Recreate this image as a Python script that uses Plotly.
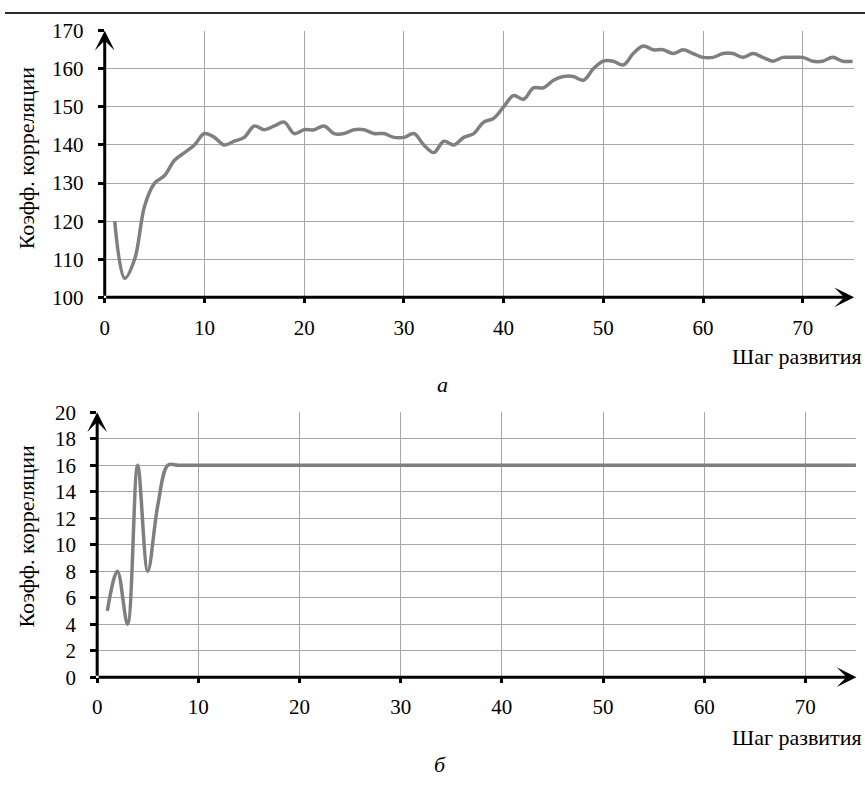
import plotly.graph_objects as go

# --- data -------------------------------------------------------------
steps = list(range(1, 76))

corr_a = [120, 105, 110, 124, 130, 132, 136, 138, 140, 143,
          142, 140, 141, 142, 145, 144, 145, 146, 143, 144,
          144, 145, 143, 143, 144, 144, 143, 143, 142, 142,
          143, 140, 138, 141, 140, 142, 143, 146, 147, 150,
          153, 152, 155, 155, 157, 158, 158, 157, 160, 162,
          162, 161, 164, 166, 165, 165, 164, 165, 164, 163,
          163, 164, 164, 163, 164, 163, 162, 163, 163, 163,
          162, 162, 163, 162, 162]

corr_b = [5, 8, 4, 16, 8, 13, 16, 16, 16, 16,
          16, 16, 16, 16, 16, 16, 16, 16, 16, 16,
          16, 16, 16, 16, 16, 16, 16, 16, 16, 16,
          16, 16, 16, 16, 16, 16, 16, 16, 16, 16,
          16, 16, 16, 16, 16, 16, 16, 16, 16, 16,
          16, 16, 16, 16, 16, 16, 16, 16, 16, 16,
          16, 16, 16, 16, 16, 16, 16, 16, 16, 16,
          16, 16, 16, 16, 16]

x_ticks = [0, 10, 20, 30, 40, 50, 60, 70]
y_ticks_a = [100, 110, 120, 130, 140, 150, 160, 170]
y_ticks_b = [0, 2, 4, 6, 8, 10, 12, 14, 16, 18, 20]

y_title = "Коэфф. корреляции"
x_title = "Шаг развития"
panel_a = "а"
panel_b = "б"

# --- layout helpers ---------------------------------------------------
W, H = 865, 790
FONT = "Liberation Serif, Times New Roman, DejaVu Serif, serif"
LINE_GREY = "#7f7f7f"
GRID_GREY = "#a6a6a6"


def px(x):
    return x / W


def py(y):
    return 1 - y / H


XA_END = 75.15
XB_END = 75.05

fig = go.Figure()

fig.add_trace(go.Scatter(
    x=steps, y=corr_a, mode="lines",
    line=dict(color=LINE_GREY, width=3.5, shape="spline", smoothing=1),
    xaxis="x", yaxis="y", showlegend=False, hoverinfo="skip"))

fig.add_trace(go.Scatter(
    x=steps, y=corr_b, mode="lines",
    line=dict(color=LINE_GREY, width=3.5, shape="spline", smoothing=1),
    xaxis="x2", yaxis="y2", showlegend=False, hoverinfo="skip"))

common_x = dict(
    tickvals=x_ticks, ticks="outside", ticklen=5, tickwidth=3, tickcolor="black",
    showgrid=True, gridcolor=GRID_GREY, gridwidth=1, zeroline=False,
    showline=False, tickfont=dict(family=FONT, size=21, color="black"),
    ticklabelstandoff=6, fixedrange=True)
common_y = dict(
    ticks="outside", ticklen=6, tickwidth=3, tickcolor="black",
    showgrid=True, gridcolor=GRID_GREY, gridwidth=1, zeroline=False,
    showline=False, tickfont=dict(family=FONT, size=21, color="black"),
    ticklabelstandoff=10, fixedrange=True)

fig.update_layout(
    width=W, height=H,
    margin=dict(l=0, r=0, t=0, b=0),
    paper_bgcolor="white", plot_bgcolor="white",
    font=dict(family=FONT, size=21, color="black"),
    xaxis=dict(domain=[px(100.3), px(100.3 + 10.03 * XA_END)],
               range=[0, XA_END], anchor="y", **common_x),
    yaxis=dict(domain=[py(294.3), py(19.3)], range=[100, 170],
               tickvals=y_ticks_a, anchor="x", **common_y),
    xaxis2=dict(domain=[px(92.7), px(92.7 + 10.176 * XB_END)],
                range=[0, XB_END], anchor="y2", **common_x),
    yaxis2=dict(domain=[py(686), py(412.7)], range=[0, 20],
                tickvals=y_ticks_b, anchor="x2", **common_y),
)

# axes drawn as arrows
arrow = dict(showarrow=True, text="", arrowhead=3, arrowsize=1.1,
             arrowwidth=3, arrowcolor="black", standoff=0, startstandoff=0)
fig.add_annotation(xref="x", yref="y", axref="x", ayref="y",
                   x=XA_END, y=100, ax=0, ay=100, **arrow)
fig.add_annotation(xref="x", yref="y", axref="x", ayref="y",
                   x=0, y=170, ax=0, ay=100, **arrow)
fig.add_annotation(xref="x2", yref="y2", axref="x2", ayref="y2",
                   x=XB_END, y=0, ax=0, ay=0, **arrow)
fig.add_annotation(xref="x2", yref="y2", axref="x2", ayref="y2",
                   x=0, y=20, ax=0, ay=0, **arrow)

txt = dict(family=FONT, size=22, color="black")
# axis titles
for cy in (150, 540):
    fig.add_annotation(xref="paper", yref="paper", x=px(22), y=py(cy),
                       text=y_title, textangle=-90, showarrow=False,
                       font=txt, xanchor="center", yanchor="middle")
for cy in (355, 748):
    fig.add_annotation(xref="paper", yref="paper", x=px(864), y=py(cy),
                       text=x_title, showarrow=False, font=txt,
                       xanchor="right", yanchor="middle")
# panel captions
fig.add_annotation(xref="paper", yref="paper", x=px(440), y=py(384),
                   text=f"<i>{panel_a}</i>", showarrow=False, font=txt,
                   xanchor="center", yanchor="middle")
fig.add_annotation(xref="paper", yref="paper", x=px(438), y=py(776),
                   text=f"<i>{panel_b}</i>", showarrow=False, font=txt,
                   xanchor="center", yanchor="middle")

# rule across the top edge of the page
fig.add_shape(type="rect", xref="paper", yref="paper",
              x0=0, x1=1, y0=py(2), y1=1,
              fillcolor="#2b2b2b", line=dict(width=0), layer="above")

fig.write_html("out.html")
